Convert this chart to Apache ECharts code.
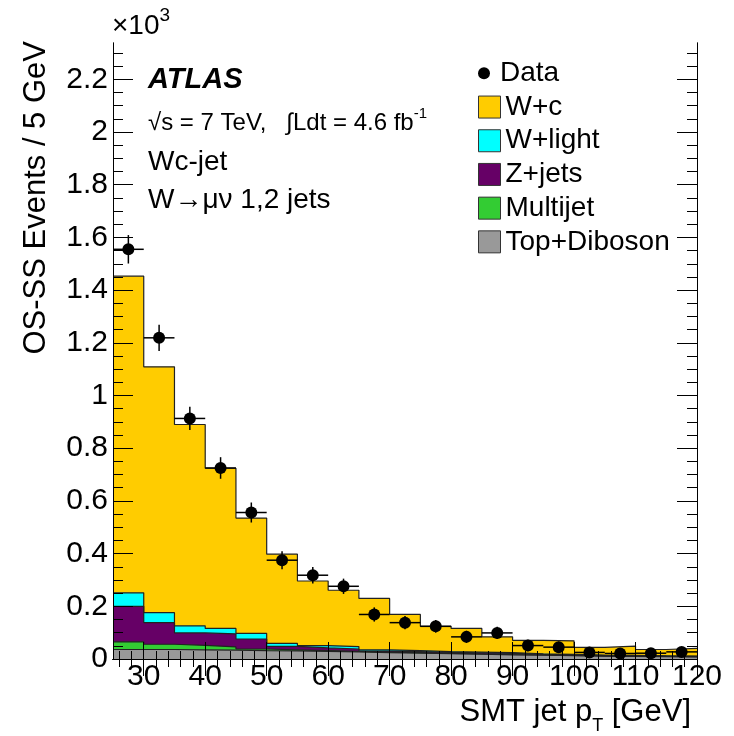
<!DOCTYPE html>
<html>
<head>
<meta charset="utf-8">
<script src="https://cdn.jsdelivr.net/npm/echarts/dist/echarts.min.js"></script>
<style>html,body{margin:0;padding:0;background:#fff;}#chart{width:734px;height:736px;}</style>
</head>
<body>
<div id="chart"></div>
<script>
// ---- data (values in units of 10^3 events / 5 GeV) ----
const binEdges = [25,30,35,40,45,50,55,60,65,70,75,80,85,90,95,100,105,110,115,120];
const dataValues = [1.555,1.219,0.913,0.725,0.556,0.375,0.318,0.276,0.169,0.138,0.124,0.084,0.099,0.051,0.045,0.025,0.021,0.022,0.027];
const dataErrors = [0.054,0.050,0.044,0.041,0.038,0.034,0.031,0.029,0.027,0.025,0.024,0.023,0.023,0.022,0.021,0.021,0.020,0.020,0.019];
const wc         = [1.202,0.933,0.764,0.608,0.438,0.339,0.245,0.214,0.195,0.137,0.096,0.090,0.060,0.051,0.051,0.029,0.035,0.024,0.029];
const wlight     = [0.051,0.038,0.027,0.021,0.021,0.011,0.009,0.009,0.005,0.004,0.003,0.003,0.003,0.002,0.002,0.002,0.002,0.001,0.001];
const zjets      = [0.135,0.082,0.047,0.049,0.038,0.013,0.010,0.009,0.004,0.004,0.004,0.004,0.004,0.002,0.002,0.001,0.001,0.001,0.001];
const multijet   = [0.029,0.020,0.017,0.012,0.006,0.004,0.003,0.002,0.002,0.002,0.001,0.001,0.001,0.001,0.001,0.001,0.001,0.001,0.001];
const topDiboson = [0.036,0.036,0.035,0.034,0.032,0.031,0.029,0.027,0.024,0.022,0.020,0.018,0.016,0.015,0.013,0.011,0.010,0.009,0.008];

const xMajorTicks = [30,40,50,60,70,80,90,100,110,120];
const xMinorTicks = [26,28,32,34,36,38,42,44,46,48,52,54,56,58,62,64,66,68,72,74,76,78,82,84,86,88,92,94,96,98,102,104,106,108,112,114,116,118];
const yMajorTicks = [0,0.2,0.4,0.6,0.8,1,1.2,1.4,1.6,1.8,2,2.2];
const yMinorTicks = [0.05,0.1,0.15,0.25,0.3,0.35,0.45,0.5,0.55,0.65,0.7,0.75,0.85,0.9,0.95,1.05,1.1,1.15,1.25,1.3,1.35,1.45,1.5,1.55,1.65,1.7,1.75,1.85,1.9,1.95,2.05,2.1,2.15,2.25,2.3];

const components = [
  {name:'Top+Diboson', values: topDiboson, color:'#999999'},
  {name:'Multijet',    values: multijet,   color:'#33cc33'},
  {name:'Z+jets',      values: zjets,      color:'#660066'},
  {name:'W+light',     values: wlight,     color:'#00ffff'},
  {name:'W+c',         values: wc,         color:'#ffcc00'}
];

const FONT = 'Liberation Sans, Arial, sans-serif';
const nBins = binEdges.length - 1;

// cumulative stacks
let running = new Array(nBins).fill(0);
const stacked = components.map(c => {
  running = running.map((r, i) => r + c.values[i]);
  return {name: c.name, color: c.color, cum: running.slice()};
});

const histSeries = stacked.slice().reverse().map(s => ({
  name: s.name,
  type: 'line',
  step: 'end',
  symbol: 'none',
  xAxisIndex: 0, yAxisIndex: 0,
  color: s.color,
  lineStyle: {color: '#222', width: 1.2},
  areaStyle: {color: s.color, opacity: 1},
  emphasis: {disabled: true},
  silent: true,
  z: 2,
  data: binEdges.map((e, i) => [e, s.cum[Math.min(i, nBins - 1)]])
}));

const pointData = dataValues.map((v, i) => [
  (binEdges[i] + binEdges[i + 1]) / 2, v, dataErrors[i], (binEdges[i + 1] - binEdges[i]) / 2
]);

const axisLineStyle = {show: true, lineStyle: {color: '#000', width: 1}};
function xAx(pos, ticks, len, labels) {
  return {
    type: 'value', min: 25, max: 120, position: pos, gridIndex: 0, z: 10,
    axisLine: axisLineStyle,
    axisTick: {show: true, inside: true, length: len, customValues: ticks, lineStyle: {color: '#000', width: 1}},
    axisLabel: labels ? {show: true, customValues: ticks, fontSize: 30, fontFamily: FONT, color: '#000', margin: 3} : {show: false},
    splitLine: {show: false}
  };
}
function yAx(pos, ticks, len, labels) {
  return {
    type: 'value', min: 0, max: 2.338, position: pos, gridIndex: 0, z: 10,
    axisLine: axisLineStyle,
    axisTick: {show: true, inside: true, length: len, customValues: ticks, lineStyle: {color: '#000', width: 1}},
    axisLabel: labels ? {show: true, customValues: ticks, fontSize: 30, fontFamily: FONT, color: '#000', margin: 5} : {show: false},
    splitLine: {show: false}
  };
}

const option = {
  backgroundColor: '#fff',
  animation: false,
  grid: {left: 113, right: 37, top: 43, bottom: 77, containLabel: false, outerBoundsMode: 'none'},
  xAxis: [
    xAx('bottom', xMajorTicks, 17, true),
    xAx('bottom', xMinorTicks, 8, false),
    xAx('top', xMajorTicks, 17, false),
    xAx('top', xMinorTicks, 8, false)
  ],
  yAxis: [
    yAx('left', yMajorTicks, 20, true),
    yAx('left', yMinorTicks, 10, false),
    yAx('right', yMajorTicks, 20, false),
    yAx('right', yMinorTicks, 10, false)
  ],
  legend: [
    {
      data: [{name: 'Data', icon: 'circle', itemStyle: {color: '#000', opacity: 1}}],
      orient: 'vertical', left: 478, top: 56.5, padding: 0, itemGap: 0,
      itemWidth: 22, itemHeight: 12, selectedMode: false,
      textStyle: {fontSize: 28, fontFamily: FONT, color: '#000', lineHeight: 33.7}
    },
    {
      data: components.slice().reverse().map(c => ({
        name: c.name, icon: 'rect',
        itemStyle: {color: c.color, borderColor: '#333', borderWidth: 1}
      })),
      orient: 'vertical', left: 478, top: 90.2, padding: 0, itemGap: 0,
      itemWidth: 22, itemHeight: 22, selectedMode: false,
      textStyle: {fontSize: 28, fontFamily: FONT, color: '#000', lineHeight: 33.7}
    }
  ],
  series: histSeries.concat([
    {
      name: 'Data errors',
      type: 'custom',
      xAxisIndex: 0, yAxisIndex: 0,
      silent: true, z: 4,
      encode: {x: 0, y: 1},
      data: pointData,
      renderItem: function (params, api) {
        const x = api.value(0), y = api.value(1), e = api.value(2), hw = api.value(3);
        const l = api.coord([x - hw, y]), r = api.coord([x + hw, y]);
        const lo = api.coord([x, Math.max(0, y - e)]), hi = api.coord([x, y + e]);
        const st = {stroke: '#000', lineWidth: 1.5};
        return {type: 'group', children: [
          {type: 'line', shape: {x1: l[0], y1: l[1], x2: r[0], y2: r[1]}, style: st},
          {type: 'line', shape: {x1: lo[0], y1: lo[1], x2: hi[0], y2: hi[1]}, style: st}
        ]};
      }
    },
    {
      name: 'Data',
      type: 'scatter',
      xAxisIndex: 0, yAxisIndex: 0,
      symbol: 'circle', symbolSize: 12,
      itemStyle: {color: '#000', opacity: 1},
      silent: true, z: 5,
      data: pointData.map(p => [p[0], p[1]])
    }
  ]),
  graphic: [
    {type: 'text', x: 36, y: 41, rotation: Math.PI / 2,
     style: {text: 'OS-SS Events / 5 GeV', font: '31px ' + FONT, fill: '#000', align: 'right', verticalAlign: 'middle'}},
    {type: 'text', x: 691, y: 712,
     style: {text: '{n|SMT jet p}{s|T}{n| [GeV]}', align: 'right', verticalAlign: 'middle', fill: '#000',
       rich: {n: {fontSize: 31, fontFamily: FONT, lineHeight: 46, fill: '#000', verticalAlign: 'middle'},
              s: {fontSize: 18, fontFamily: FONT, fill: '#000', verticalAlign: 'bottom'}}}},
    {type: 'text', x: 112, y: 26,
     style: {text: '{n|×10}{p|3}', align: 'left', verticalAlign: 'middle', fill: '#000',
       rich: {n: {fontSize: 28, fontFamily: FONT, lineHeight: 40, fill: '#000', verticalAlign: 'middle'},
              p: {fontSize: 19, fontFamily: FONT, fill: '#000', verticalAlign: 'top'}}}},
    {type: 'text', x: 148, y: 80,
     style: {text: 'ATLAS', font: 'italic bold 29px ' + FONT, fill: '#000', align: 'left', verticalAlign: 'middle'}},
    {type: 'text', x: 148, y: 123,
     style: {text: '{n|√s = 7 TeV,   ∫Ldt = 4.6 fb}{p|-1}', align: 'left', verticalAlign: 'middle', fill: '#000',
       rich: {n: {fontSize: 24, fontFamily: FONT, lineHeight: 34, fill: '#000', verticalAlign: 'middle'},
              p: {fontSize: 15, fontFamily: FONT, fill: '#000', verticalAlign: 'top'}}}},
    {type: 'text', x: 148, y: 162,
     style: {text: 'Wc-jet', font: '28px ' + FONT, fill: '#000', align: 'left', verticalAlign: 'middle'}},
    {type: 'text', x: 148, y: 200,
     style: {text: 'W→μν 1,2 jets', font: '28px ' + FONT, fill: '#000', align: 'left', verticalAlign: 'middle'}}
  ]
};

const chart = echarts.init(document.getElementById('chart'), null, {renderer: 'canvas'});
chart.setOption(option);
</script>
</body>
</html>
